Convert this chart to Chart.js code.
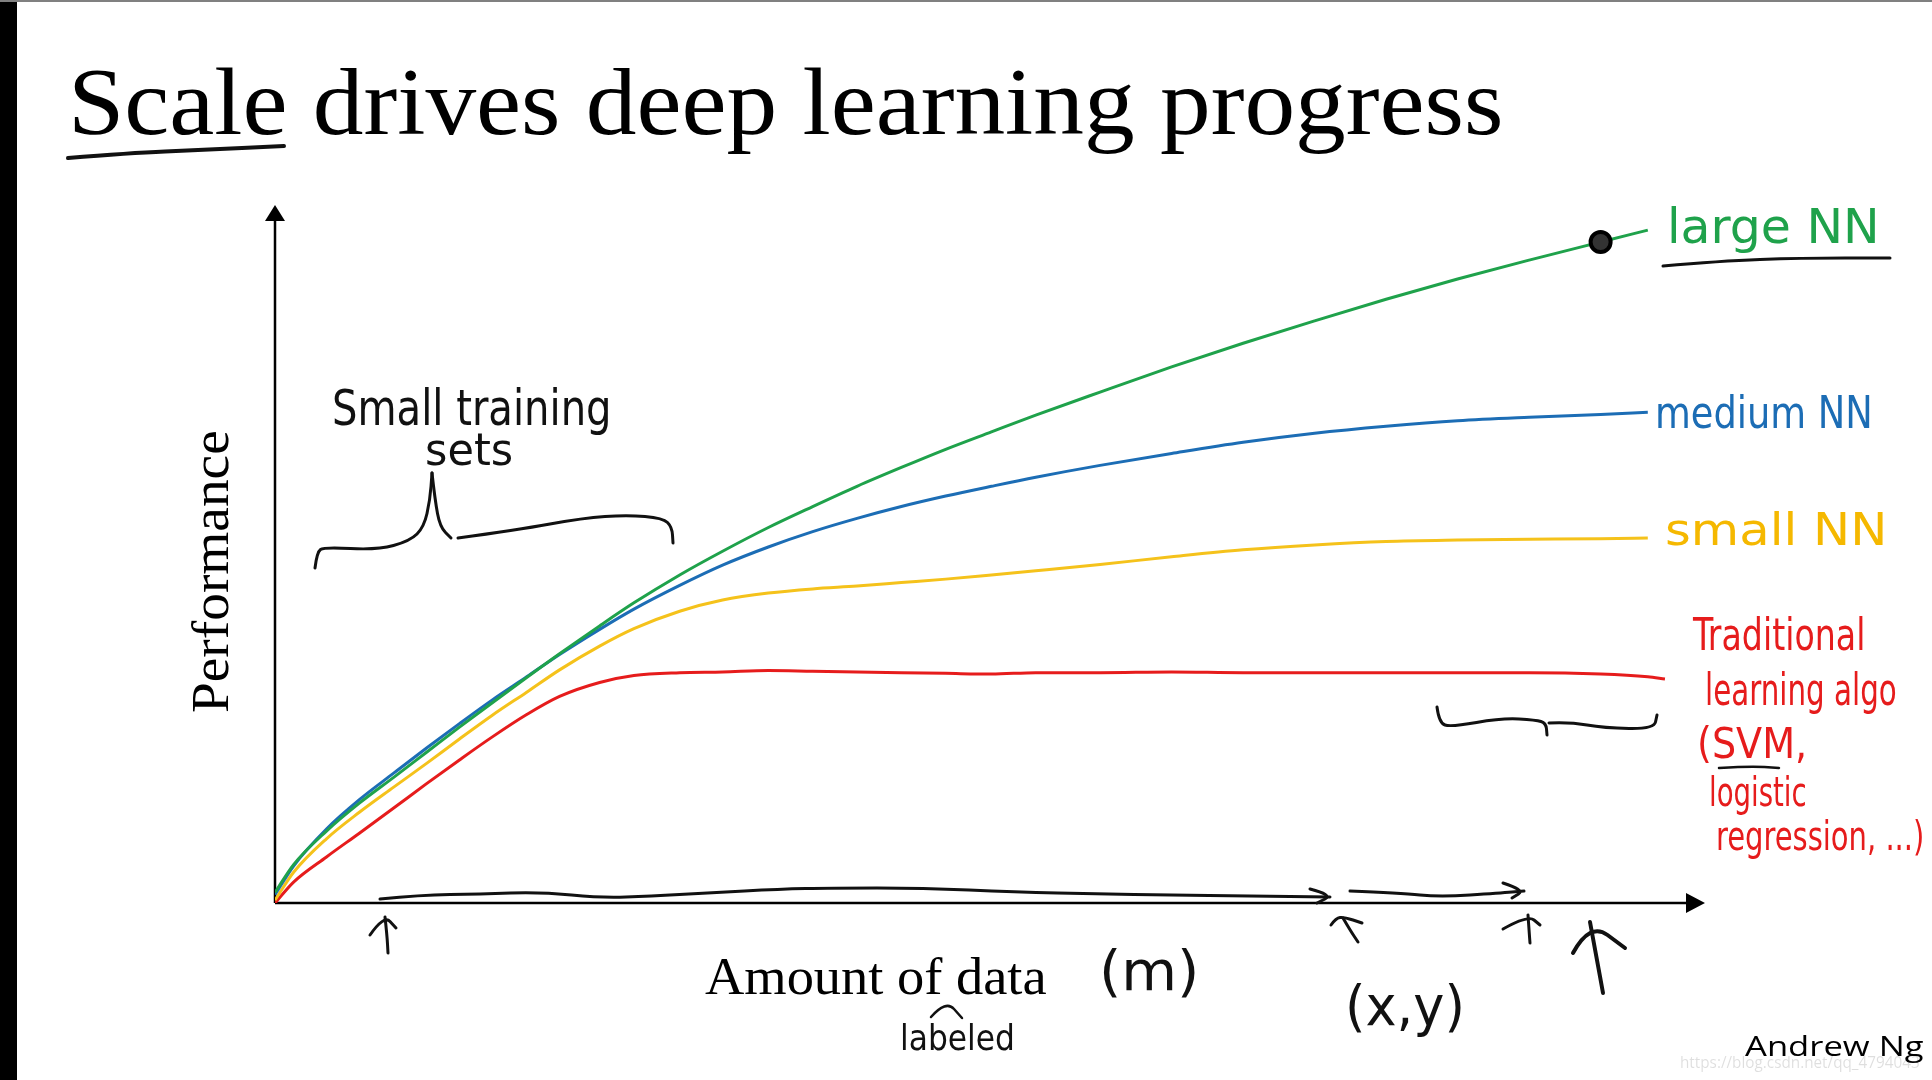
<!DOCTYPE html>
<html>
<head>
<meta charset="utf-8">
<script src="https://cdn.jsdelivr.net/npm/chart.js@4.4.1/dist/chart.umd.min.js"></script>
<style>
  html, body { margin: 0; padding: 0; background: #fff; }
  #wrap { position: relative; width: 1932px; height: 1080px; overflow: hidden; background: #fff; }
  #wrap canvas { position: absolute; left: 0; top: 0; }
  #edge { position: absolute; left: 0; top: 0; width: 17px; height: 1080px; background: #000; }
  #topline { position: absolute; left: 0; top: 0; width: 1932px; height: 2px; background: #808080; }
  .t { position: absolute; white-space: nowrap; line-height: 1; transform-origin: 0 0; }
  .serif { font-family: "Liberation Serif", "DejaVu Serif", serif; color: #000; }
  .hand { font-family: "Liberation Sans Narrow", "DejaVu Sans Condensed", "Liberation Sans", sans-serif; }
  .sans { font-family: "Open Sans", "Noto Sans", sans-serif; color: #000; }
</style>
</head>
<body>
<div id="wrap">
  <canvas id="chart" width="1932" height="1080"></canvas>
  <div id="edge"></div>
  <div id="topline"></div>
</div>
<script>
// amount of data (0-100, axis origin to arrow tip)
const dataAmount = [0, 1.3, 3.6, 5.9, 8.3, 10.6, 12.9, 15.2, 17.6, 19.9, 22.7, 25.1, 28.3, 31.3, 34.5,
  37.6, 40.7, 43.8, 46.9, 50.1, 53.2, 57.7, 62.7, 67.7, 72.7, 77.7, 82.7, 87.7, 92.7, 96.0, 97.2];

// performance (0-100, axis origin to arrow tip)
const largeNN = [1.5, 5.5, 10.3, 14.3, 18.0, 21.6, 25.2, 28.7, 32.3, 35.7, 39.7, 43.0, 47.0, 50.4, 53.8,
  56.8, 59.7, 62.4, 65.0, 67.5, 69.9, 73.2, 76.8, 80.2, 83.4, 86.5, 89.4, 92.1, 94.7, 96.4, null];
const mediumNN = [1.2, 5.3, 10.6, 14.8, 18.6, 22.2, 25.7, 29.1, 32.4, 35.6, 39.2, 42.1, 45.5, 48.4, 51.0,
  53.2, 55.1, 56.8, 58.3, 59.7, 61.0, 62.7, 64.4, 66.0, 67.3, 68.3, 69.1, 69.6, 70.0, 70.3, null];
const smallNN = [0.4, 4.4, 9.2, 13.0, 16.6, 20.0, 23.5, 26.9, 30.2, 33.4, 36.8, 39.3, 41.8, 43.4, 44.4,
  45.0, 45.4, 45.9, 46.4, 47.0, 47.6, 48.5, 49.6, 50.6, 51.3, 51.8, 52.0, 52.1, 52.2, 52.3, null];
const traditional = [0, 3.0, 6.6, 10.0, 13.6, 17.1, 20.5, 23.8, 27.0, 29.6, 31.6, 32.6, 33.0, 33.1, 33.3,
  33.2, 33.1, 33.0, 32.9, 32.8, 33.0, 33.0, 33.1, 33.0, 33.0, 33.0, 33.0, 33.0, 32.8, 32.4, 32.1];

const markedPoint = 28; // circled point on the large NN curve

const toPoints = ys => dataAmount.map((x, i) => ({x: x, y: ys[i]})).filter(p => p.y !== null);

// pen strokes drawn on the slide (page pixels)
const penStrokes = [
  {w: 4, pts: [[68, 158], [130, 153], [200, 150], [284, 146]]},
  {w: 3, pts: [[315, 568], [317, 552], [324, 547], [377, 550], [410, 541], [424, 527], [430, 500], [432, 473]]},
  {w: 3, pts: [[432, 473], [435, 500], [440, 527], [451, 538]]},
  {w: 3, pts: [[458, 538], [517, 530], [583, 518], [627, 515], [663, 518], [672, 527], [673, 543]]},
  {w: 3, pts: [[1663, 266], [1720, 261], [1800, 258], [1890, 258]]},
  {w: 2.5, pts: [[1719, 768], [1750, 766], [1779, 768]]},
  {w: 3, pts: [[1437, 707], [1439, 723], [1451, 727], [1502, 718], [1536, 720], [1546, 723], [1547, 735]]},
  {w: 3, pts: [[1549, 723], [1570, 722], [1604, 728], [1654, 729], [1657, 715]]},
  {w: 3, pts: [[380, 899], [420, 895], [480, 894], [541, 892], [602, 898], [650, 896], [709, 893], [780, 889],
    [831, 888], [923, 888], [1015, 892], [1100, 894], [1168, 895], [1250, 896], [1330, 897]]},
  {w: 3, pts: [[1310, 889], [1333, 895], [1317, 903]]},
  {w: 3, pts: [[1350, 891], [1400, 893], [1440, 897], [1500, 893], [1524, 891]]},
  {w: 3, pts: [[1503, 883], [1525, 890], [1512, 898]]},
  {w: 3, pts: [[385, 917], [387, 935], [388, 953]]},
  {w: 3, pts: [[370, 935], [384, 915], [396, 928]]},
  {w: 3, pts: [[1343, 918], [1350, 930], [1358, 942]]},
  {w: 3, pts: [[1331, 925], [1336, 918], [1344, 917], [1362, 923]]},
  {w: 3, pts: [[1528, 915], [1529, 930], [1530, 943]]},
  {w: 3, pts: [[1503, 929], [1528, 915], [1540, 925]]},
  {w: 4, pts: [[1590, 922], [1597, 960], [1603, 993]]},
  {w: 4, pts: [[1573, 953], [1590, 922], [1625, 948]]},
  {w: 2.5, pts: [[931, 1017], [946, 1000], [962, 1018]]}
];

function pen(ctx, pts, w) {
  ctx.beginPath();
  ctx.moveTo(pts[0][0], pts[0][1]);
  for (let i = 1; i < pts.length - 1; i++) {
    const mx = (pts[i][0] + pts[i + 1][0]) / 2, my = (pts[i][1] + pts[i + 1][1]) / 2;
    ctx.quadraticCurveTo(pts[i][0], pts[i][1], mx, my);
  }
  const last = pts[pts.length - 1];
  ctx.lineTo(last[0], last[1]);
  ctx.lineWidth = w;
  ctx.stroke();
}

const slideAxes = {
  id: 'slideAxes',
  beforeDatasetsDraw(chart) {
    const {ctx, chartArea: a} = chart;
    ctx.save();
    ctx.strokeStyle = '#000';
    ctx.fillStyle = '#000';
    ctx.lineWidth = 2.5;
    ctx.beginPath();
    ctx.moveTo(a.left, a.bottom);
    ctx.lineTo(a.left, a.top + 14);
    ctx.moveTo(a.left, a.bottom);
    ctx.lineTo(a.right - 16, a.bottom);
    ctx.stroke();
    ctx.beginPath();
    ctx.moveTo(a.left, a.top);
    ctx.lineTo(a.left - 10, a.top + 16);
    ctx.lineTo(a.left + 10, a.top + 16);
    ctx.closePath();
    ctx.moveTo(a.right, a.bottom);
    ctx.lineTo(a.right - 19, a.bottom - 10);
    ctx.lineTo(a.right - 19, a.bottom + 10);
    ctx.closePath();
    ctx.fill();
    ctx.restore();
  },
  afterDatasetsDraw(chart) {
    const ctx = chart.ctx;
    ctx.save();
    ctx.strokeStyle = '#111';
    ctx.lineCap = 'round';
    ctx.lineJoin = 'round';
    penStrokes.forEach(s => pen(ctx, s.pts, s.w));
    ctx.restore();
  }
};

const line = (label, ys, color) => ({
  label: label,
  data: toPoints(ys),
  borderColor: color,
  borderWidth: 3,
  pointRadius: 0,
  cubicInterpolationMode: 'monotone',
  fill: false
});

const green = line('large NN', largeNN, '#1fa24b');
green.pointRadius = ctx => ctx.dataIndex === markedPoint ? 10 : 0;
green.pointBackgroundColor = '#333';
green.pointBorderColor = '#000';
green.pointBorderWidth = 4;

new Chart(document.getElementById('chart'), {
  type: 'line',
  data: {
    datasets: [
      green,
      line('medium NN', mediumNN, '#1c6db5'),
      line('small NN', smallNN, '#f5c21b'),
      line('Traditional learning algo', traditional, '#e61c1c')
    ]
  },
  options: {
    responsive: false,
    animation: false,
    devicePixelRatio: 1,
    layout: {padding: {left: 275, right: 227, top: 205, bottom: 177}},
    plugins: {legend: {display: false}, tooltip: {enabled: false}},
    scales: {
      x: {type: 'linear', min: 0, max: 100, display: false},
      y: {type: 'linear', min: 0, max: 100, display: false}
    }
  },
  plugins: [slideAxes]
});

// slide texts
const wrap = document.getElementById('wrap');
function place(text, cls, color, size, left, baseline, width, rotate) {
  const el = document.createElement('div');
  el.className = 't ' + cls;
  el.textContent = text;
  el.style.fontSize = size + 'px';
  if (color) el.style.color = color;
  wrap.appendChild(el);
  const k = width / el.offsetWidth;
  if (rotate) {
    el.style.left = (baseline - 0.84 * size) + 'px';
    el.style.top = left + 'px';
    el.style.transform = 'rotate(-90deg) scaleX(' + k + ')';
  } else {
    el.style.left = left + 'px';
    el.style.top = (baseline - 0.84 * size) + 'px';
    el.style.transform = 'scaleX(' + k + ')';
  }
}

place('Scale drives deep learning progress', 'serif', null, 95, 68, 135, 1435);
place('Performance', 'serif', null, 53, 713, 229, 283, true);
place('Amount of data', 'serif', null, 53, 705, 995, 342);
place('https://blog.csdn.net/qq_4794043', 'sans', 'rgba(0,0,0,0.13)', 17, 1680, 1067, 240);
place('Andrew Ng', 'sans', null, 28, 1745, 1055, 178);

const ink = '#111';
place('Small training', 'hand', ink, 50, 332, 425, 280);
place('sets', 'hand', ink, 44, 425, 465, 88);
place('(m)', 'hand', ink, 56, 1099, 990, 100);
place('(x,y)', 'hand', ink, 56, 1345, 1025, 120);
place('labeled', 'hand', ink, 36, 900, 1050, 115);

place('large NN', 'hand', '#1fa24b', 48, 1667, 242, 213);
place('medium NN', 'hand', '#1c6db5', 45, 1655, 428, 218);
place('small NN', 'hand', '#f5b800', 44, 1665, 545, 222);
const red = '#e61c1c';
place('Traditional', 'hand', red, 44, 1693, 650, 172);
place('learning algo', 'hand', red, 44, 1705, 705, 192);
place('(SVM,', 'hand', red, 42, 1697, 758, 110);
place('logistic', 'hand', red, 40, 1709, 806, 98);
place('regression, ...)', 'hand', red, 40, 1716, 850, 208);
</script>
</body>
</html>
